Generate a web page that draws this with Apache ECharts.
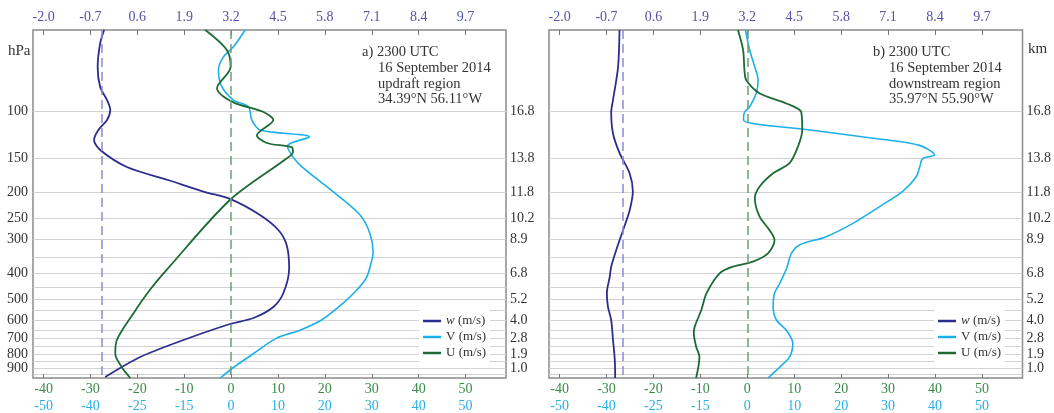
<!DOCTYPE html>
<html><head><meta charset="utf-8">
<script src="https://cdn.jsdelivr.net/npm/echarts@6/dist/echarts.min.js"></script>
<style>html,body{margin:0;padding:0;background:#fff}#c{width:1054px;height:413px}</style>
</head><body><div id="c"></div>
<script>
// ---------- tick labels ----------
const uTicks = [-40, -30, -20, -10, 0, 10, 20, 30, 40, 50];
const vTickLabels = ['-50', '-40', '-25', '-15', '0', '10', '20', '30', '40', '50'];
const wTicks = [-2.0, -0.7, 0.6, 1.9, 3.2, 4.5, 5.8, 7.1, 8.4, 9.7];
const hPaLabelTicks = [100, 150, 200, 250, 300, 400, 500, 600, 700, 800, 900];
const kmLabels = ['16.8', '13.8', '11.8', '10.2', '8.9', '6.8', '5.2', '4.0', '2.8', '1.9', '1.0'];
const gridLevels = [100, 150, 200, 250, 300, 350, 400, 450, 500, 550, 600, 650, 700, 750, 800, 850, 900, 950];
const panelTitles = [
  ['a) 2300 UTC', '16 September 2014', 'updraft region', '34.39°N 56.11°W'],
  ['b) 2300 UTC', '16 September 2014', 'downstream region', '35.97°N 55.90°W']
];
const wZeroRef = [-0.40, -0.25];

// ---------- panel a: updraft region ----------
const aW_p = [50, 56, 68.6, 81.4, 91, 99.1, 107.9, 117.6, 128.1, 139.5, 161.3, 180.3, 199.8, 212, 243.2, 276.5, 314.3, 382.6, 473.9, 534.1, 586.8, 617.6, 708.3, 819, 972];
const aW   = [-0.32, -0.43, -0.50, -0.43, -0.24, -0.15, -0.24, -0.48, -0.60, -0.43, 0.31, 1.45, 2.48, 3.17, 4.00, 4.51, 4.74, 4.81, 4.65, 4.37, 3.82, 3.17, 1.88, 0.68, -0.29];
const aV_p = [50, 57.7, 62.8, 70.4, 81, 91, 96.4, 107.9, 117.6, 124.8, 134.5, 143, 158.7, 199.6, 243.2, 284.7, 336.4, 357.8, 414.3, 461.9, 516.7, 597, 651, 697, 795, 896, 980];
const aV   = [3.0, 0.5, -1.6, -2.7, -2.0, 0.5, 3.7, 4.4, 6.2, 16.7, 12.0, 12.6, 14.7, 21.8, 27.5, 29.6, 30.3, 30.0, 28.9, 26.8, 23.9, 19.3, 14.7, 9.7, 4.8, 0.5, -2.3];
const aU_p = [50, 59.3, 68.6, 82.2, 92.6, 100.6, 108, 118.9, 122.9, 131.4, 136.2, 141.8, 149.8, 213.5, 388, 461, 563, 711, 796, 894, 980];
const aU   = [-5.5, -0.9, -0.1, -3.0, 0.4, 6.8, 9.0, 6.2, 5.5, 7.6, 12.9, 13.2, 11.9, -0.2, -13.7, -17.3, -20.8, -24.4, -24.7, -23.3, -21.5];

// ---------- panel b: downstream region ----------
const bW_p = [50, 68.7, 91, 101, 121.1, 143, 170.2, 199, 233.9, 276.5, 328, 378.4, 412.3, 475.1, 532.8, 596.8, 708.3, 840.4, 980];
const bW   = [-0.34, -0.38, -0.52, -0.57, -0.52, -0.34, -0.06, 0.03, -0.06, -0.24, -0.43, -0.57, -0.61, -0.69, -0.66, -0.57, -0.52, -0.47, -0.46];
const bV_p = [50, 59.3, 68.7, 76.9, 85.9, 96.4, 101, 107.9, 117.6, 127, 134.1, 145.7, 149.9, 161.8, 175.3, 198.6, 226.3, 261.2, 292.7, 314.3, 337.6, 378.4, 400.5, 436.8, 475.1, 532.8, 596.8, 651, 729, 817.7, 893, 980];
const bV   = [-0.4, 0.5, 1.6, 2.3, 1.9, 0.5, -0.6, -0.8, 13.3, 28.2, 36.7, 39.9, 37.4, 36.7, 36.0, 33.1, 28.2, 22.5, 16.8, 11.1, 9.4, 8.5, 7.9, 6.9, 5.8, 5.5, 6.2, 8.3, 9.7, 9.0, 6.9, 4.4];
const bU_p = [50, 59.3, 70.8, 76.9, 85.9, 93.7, 101, 117.6, 135.4, 156.2, 170.2, 190.9, 210.6, 246.1, 276.5, 301.5, 337.6, 362.3, 378.4, 400.5, 475.1, 547.8, 631.7, 669, 750.3, 817.7, 980];
const bU   = [-2.0, -0.9, -0.6, -0.2, 2.6, 8.3, 11.5, 11.7, 10.8, 9.0, 5.5, 2.6, 1.6, 2.6, 4.7, 5.8, 4.4, 1.2, -3.1, -5.9, -8.7, -9.8, -11.2, -11.4, -10.9, -10.2, -10.9];

// ---------- styling ----------
const FONT = "'Liberation Serif', 'DejaVu Serif', serif";
const C_W = '#2d2d8e', C_V = '#1cb0ea', C_U = '#1d6a35';
const C_WL = '#5252a8', C_UL = '#3b8a48', C_VL = '#2aaee6';
const U_MIN = -42.25, U_MAX = 58.63;
const uToW = u => -2.0 + (u + 40) * 0.13;
const W_MIN = uToW(U_MIN), W_MAX = uToW(U_MAX);
const P_MIN = 50, P_MAX = 980;

const pair = (xs, ps) => xs.map((x, k) => [x, ps[k]]);
const nearestIdx = (arr, v) => {
  let bi = 0, bd = Infinity;
  arr.forEach((a, i) => { const d = Math.abs(a - v); if (d < bd) { bd = d; bi = i; } });
  return bi;
};
// split label ticks into two alternating sets so neighbouring labels never collide
const labelsEven = hPaLabelTicks.filter((_, k) => k % 2 === 0);
const labelsOdd = hPaLabelTicks.filter((_, k) => k % 2 === 1);

const grids = [
  { left: 33, right: 548, top: 30, bottom: 35 },
  { left: 549, right: 31, top: 30, bottom: 35 }
].map(g => Object.assign(g, { show: true, borderColor: '#8a8a8a', borderWidth: 1.5, backgroundColor: 'transparent', containLabel: false }));

const xAxes = [], yAxes = [], series = [];
const panelData = [
  { w: pair(aW, aW_p), v: pair(aV, aV_p), u: pair(aU, aU_p) },
  { w: pair(bW, bW_p), v: pair(bV, bV_p), u: pair(bU, bU_p) }
];
const lbl = (extra) => Object.assign({ fontFamily: FONT, fontSize: 14, showMinLabel: true, showMaxLabel: true, hideOverlap: false }, extra);

const pAxis = (i, position, values, isKm, withGrid) => ({
  type: 'log', gridIndex: i, position: position, inverse: true, min: P_MIN, max: P_MAX, logBase: 10,
  axisLine: { show: false },
  axisTick: { show: false, customValues: withGrid ? gridLevels : values },
  axisLabel: lbl({ show: isKm || i === 0, customValues: values, color: '#333', margin: isKm ? 4 : 5,
    formatter: v => isKm ? kmLabels[nearestIdx(hPaLabelTicks, v)] : String(hPaLabelTicks[nearestIdx(hPaLabelTicks, v)]) }),
  splitLine: { show: withGrid, lineStyle: { color: '#d2d2d2', width: 1 } }
});

for (let i = 0; i < 2; i++) {
  xAxes.push({
    type: 'value', gridIndex: i, position: 'bottom', min: U_MIN, max: U_MAX,
    axisLine: { show: false },
    axisTick: { show: true, inside: true, length: 4, customValues: uTicks, lineStyle: { color: '#777', width: 1 } },
    axisLabel: lbl({ customValues: uTicks, color: C_UL, margin: 4, formatter: v => String(Math.round(v)) }),
    splitLine: { show: false }
  });
  xAxes.push({
    type: 'value', gridIndex: i, position: 'bottom', offset: 17, min: U_MIN, max: U_MAX,
    axisLine: { show: false }, axisTick: { show: false, customValues: uTicks },
    axisLabel: lbl({ customValues: uTicks, color: C_VL, margin: 4, formatter: v => vTickLabels[nearestIdx(uTicks, v)] }),
    splitLine: { show: false }
  });
  xAxes.push({
    type: 'value', gridIndex: i, position: 'top', min: W_MIN, max: W_MAX,
    axisLine: { show: false },
    axisTick: { show: true, inside: true, length: 5, customValues: wTicks, lineStyle: { color: '#777', width: 1 } },
    axisLabel: lbl({ customValues: wTicks, color: C_WL, margin: 6, formatter: v => wTicks[nearestIdx(wTicks, v)].toFixed(1) }),
    splitLine: { show: false }
  });
  yAxes.push(pAxis(i, 'left', labelsEven, false, true));
  yAxes.push(pAxis(i, 'right', labelsEven, true, false));
  yAxes.push(pAxis(i, 'left', labelsOdd, false, false));
  yAxes.push(pAxis(i, 'right', labelsOdd, true, false));

  const d = panelData[i];
  const yi = 4 * i;
  series.push({
    name: 'w', type: 'line', xAxisIndex: 3 * i + 2, yAxisIndex: yi, data: d.w,
    showSymbol: false, smooth: 0.3, color: C_W, lineStyle: { width: 1.8, color: C_W }, z: 3,
    markLine: { silent: true, symbol: ['none', 'none'], label: { show: false },
      lineStyle: { color: '#8c8cd8', type: [9, 5], width: 1.5 }, data: [{ xAxis: wZeroRef[i] }] }
  });
  series.push({
    name: 'V', type: 'line', xAxisIndex: 3 * i + 1, yAxisIndex: yi, data: d.v,
    showSymbol: false, smooth: 0.3, color: C_V, lineStyle: { width: 1.6, color: C_V }, z: 3
  });
  series.push({
    name: 'U', type: 'line', xAxisIndex: 3 * i, yAxisIndex: yi, data: d.u,
    showSymbol: false, smooth: 0.3, color: C_U, lineStyle: { width: 1.8, color: C_U }, z: 3,
    markLine: { silent: true, symbol: ['none', 'none'], label: { show: false },
      lineStyle: { color: '#6b9e74', type: [9, 5], width: 1.5 }, data: [{ xAxis: 0 }] }
  });
}

const legendBase = {
  orient: 'vertical', top: 310, padding: [4, 4, 4, 4], itemGap: 2,
  backgroundColor: '#ffffff', icon: 'rect', itemWidth: 18, itemHeight: 2.5,
  data: ['w', 'V', 'U'],
  formatter: n => n === 'w' ? '{i|w} (m/s)' : n + ' (m/s)',
  textStyle: { fontFamily: FONT, fontSize: 13, color: '#333', lineHeight: 14,
    rich: { i: { fontFamily: FONT, fontSize: 13, fontStyle: 'italic', color: '#333' } } },
  selectedMode: false, z: 10
};

const graphics = [
  { type: 'text', left: 8, top: 44, style: { text: 'hPa', font: `15px ${FONT}`, fill: '#333' } },
  { type: 'text', left: 1028, top: 42, style: { text: 'km', font: `15px ${FONT}`, fill: '#333' } }
];
const titlePos = [{ x1: 362, x2: 378 }, { x1: 873, x2: 889 }];
for (let i = 0; i < 2; i++) {
  graphics.push({ type: 'text', left: titlePos[i].x1, top: 45,
    style: { text: panelTitles[i][0], font: `14.5px ${FONT}`, fill: '#333' } });
  graphics.push({ type: 'text', left: titlePos[i].x2, top: 60.5,
    style: { text: panelTitles[i].slice(1).join('\n'), font: `14.5px ${FONT}`, fill: '#333', lineHeight: 15.5 } });
}

const chart = echarts.init(document.getElementById('c'), null, { renderer: 'canvas' });
chart.setOption({
  animation: false,
  backgroundColor: '#fff',
  grid: grids,
  xAxis: xAxes,
  yAxis: yAxes,
  legend: [Object.assign({}, legendBase, { left: 419 }), Object.assign({}, legendBase, { left: 934 })],
  graphic: graphics,
  series: series
});
</script></body></html>
